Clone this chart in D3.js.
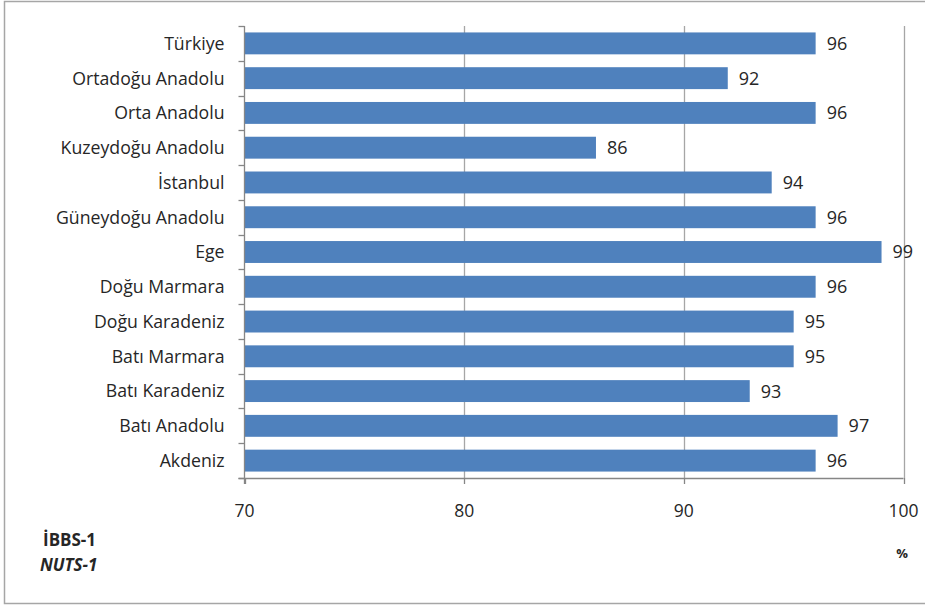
<!DOCTYPE html>
<html><head><meta charset="utf-8">
<script src="https://cdn.jsdelivr.net/npm/d3@7"></script>
<style>body{margin:0;background:#fff;} svg{display:block;} text{font-family:"Open Sans",sans-serif;fill:#262626;}</style>
</head><body>
<svg id="c" width="925" height="606"></svg>
<script>
const categories = ["Türkiye","Ortadoğu Anadolu","Orta Anadolu","Kuzeydoğu Anadolu","İstanbul","Güneydoğu Anadolu","Ege","Doğu Marmara","Doğu Karadeniz","Batı Marmara","Batı Karadeniz","Batı Anadolu","Akdeniz"];
const values = [96,92,96,86,94,96,99,96,95,95,93,97,96];
const xTicks = [70,80,90,100];

const svg = d3.select("#c");
svg.append("rect").attr("x",4.5).attr("y",1.5).attr("width",930).attr("height",602)
  .attr("fill","none").attr("stroke","#a6a6a6").attr("stroke-width",1.5);

const L=244.5, R=903.5, T=26, B=478;
const x = d3.scaleLinear().domain([70,100]).range([L,R]);
const y = d3.scaleBand().domain(categories).range([T,B]).paddingInner(0.37).paddingOuter(0.185);
const yb = d3.scaleBand().domain(categories).range([T,B]);

// gridlines
svg.append("g").selectAll("line").data(xTicks.slice(1)).join("line")
  .attr("x1",d=>Math.round(x(d))+0.5).attr("x2",d=>Math.round(x(d))+0.5).attr("y1",T).attr("y2",B)
  .attr("stroke","#a6a6a6").attr("stroke-width",1.3);

// bars
svg.append("g").selectAll("rect").data(values).join("rect")
  .attr("x",x(70)).attr("y",(d,i)=>y(categories[i]))
  .attr("width",d=>x(d)-x(70)).attr("height",y.bandwidth()).attr("fill","#4f81bd");

// value labels
svg.append("g").selectAll("text").data(values).join("text")
  .attr("x",d=>x(d)+11).attr("y",(d,i)=>y(categories[i])+y.bandwidth()/2)
  .attr("dy","0.36em").attr("font-size",18).text(d=>d);

// y axis
const ax = svg.append("g");
ax.append("line").attr("x1",L).attr("x2",L).attr("y1",T).attr("y2",B+6).attr("stroke","#868686").attr("stroke-width",1.3);
const bounds = categories.map(c=>yb(c)).concat([B]);
ax.selectAll("line.t").data(bounds).join("line").attr("class","t")
  .attr("x1",L-6).attr("x2",L).attr("y1",d=>Math.round(d)+0.5).attr("y2",d=>Math.round(d)+0.5)
  .attr("stroke","#868686").attr("stroke-width",1.3);
ax.selectAll("text").data(categories).join("text")
  .attr("x",L-20).attr("y",d=>yb(d)+yb.bandwidth()/2).attr("dy","0.36em")
  .attr("text-anchor","end").attr("font-size",17.7).text(d=>d);

// x axis
const bx = svg.append("g");
bx.append("line").attr("x1",L-6).attr("x2",R).attr("y1",B+0.5).attr("y2",B+0.5).attr("stroke","#868686").attr("stroke-width",1.3);
bx.selectAll("line.t").data(xTicks).join("line").attr("class","t")
  .attr("x1",d=>Math.round(x(d))+0.5).attr("x2",d=>Math.round(x(d))+0.5).attr("y1",B).attr("y2",B+6)
  .attr("stroke","#868686").attr("stroke-width",1.3);
bx.selectAll("text").data(xTicks).join("text")
  .attr("x",d=>x(d)).attr("y",511).attr("dy","0.36em").attr("text-anchor","middle")
  .attr("font-size",17.5).text(d=>d);

svg.append("text").attr("x",43).attr("y",540).attr("dy","0.36em").attr("font-size",17).attr("font-weight","bold").text("İBBS-1");
svg.append("text").attr("x",40).attr("y",565).attr("dy","0.36em").attr("font-size",17).attr("font-weight","bold").attr("font-style","italic").text("NUTS-1");
svg.append("text").attr("x",902).attr("y",553).attr("dy","0.36em").attr("text-anchor","middle").attr("font-size",13).attr("font-weight","bold").text("%");
</script>
</body></html>
